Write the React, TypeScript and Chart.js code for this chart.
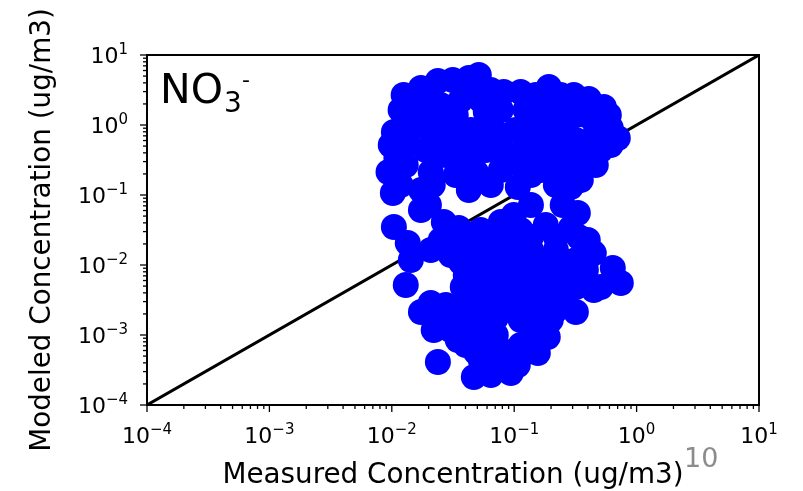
import React, { useEffect, useRef } from "react";
import { Chart, registerables } from "chart.js";

Chart.register(...registerables);

// ---- Data (ug/m3) ----
const upperMeasured = [
  0.0125, 0.0173, 0.0238, 0.0315, 0.0426, 0.0514, 0.0822, 0.113, 0.192, 0.307,
  0.407, 0.54, 0.593, 0.702, 0.0104, 0.0098, 0.0094, 0.0102, 0.0426, 0.0644,
  0.107, 0.29, 0.35, 0.51, 0.0173, 0.0251, 0.0366, 0.0533, 0.0777, 0.124,
  0.199, 0.319, 0.464, 0.0143, 0.0208, 0.0303, 0.0442, 0.0644, 0.103, 0.165,
  0.264, 0.422, 0.013, 0.019, 0.0276, 0.0402, 0.0586, 0.0938, 0.15, 0.24,
  0.35, 0.0118, 0.0333, 0.0777, 0.165, 0.113, 0.0208, 0.319, 0.615,
  0.0586, 0.0777, 0.0514, 0.15, 0.15, 0.24, 0.385, 0.0118, 0.013, 0.0216,
  0.0276, 0.0366, 0.0777, 0.124, 0.199, 0.181, 0.264, 0.464, 0.615, 0.0644,
  0.0402, 0.0208, 0.0143, 0.24, 0.219,
  0.0109, 0.0486, 0.137, 0.0208, 0.0333, 0.181,
];
const upperModeled = [
  2.68, 3.38, 4.25, 4.39, 4.69, 5.18, 2.96, 2.96, 3.49, 2.68,
  2.35, 1.81, 1.39, 0.652, 0.794, 0.518, 0.213, 0.107, 0.118, 0.139,
  0.13, 0.13, 0.164, 0.439, 1.64, 1.93, 2.28, 2.28, 1.64, 1.64,
  1.93, 1.39, 1.0, 0.848, 0.848, 1.0, 0.848, 1.0, 0.848, 0.848,
  0.72, 0.611, 0.518, 0.439, 0.373, 0.316, 0.439, 0.373, 0.439, 0.373,
  0.316, 1.64, 0.193, 0.228, 0.228, 0.268, 0.213, 0.611, 0.906,
  1.53, 0.72, 0.652, 2.68, 1.26, 1.26, 1.39, 0.139, 0.268, 0.139,
  0.611, 0.518, 0.373, 0.518, 0.611, 0.316, 0.228, 0.268, 0.518, 3.16,
  3.16, 2.68, 2.28, 2.68, 0.139,
  0.338, 0.213, 0.193, 1.39, 1.39, 1.39,
];
const bridgeMeasured = [0.0173, 0.0201, 0.0266, 0.0353];
const bridgeModeled = [0.118, 0.072, 0.0411, 0.0338];
const lowerMeasured = [
  0.0104, 0.0135, 0.0143, 0.013, 0.0173, 0.022, 0.0346, 0.0238, 0.0468, 0.0644,
  0.0938, 0.107, 0.156, 0.188, 0.199, 0.319, 0.447, 0.639, 0.743, 0.447,
  0.399, 0.331, 0.249, 0.137, 0.0992, 0.0173, 0.0533, 0.0777, 0.0251, 0.0366,
  0.113, 0.181, 0.29, 0.0208, 0.0303, 0.0442, 0.0644, 0.0938, 0.137, 0.219,
  0.319, 0.0402, 0.0586, 0.0854, 0.124, 0.181, 0.264, 0.385, 0.0208, 0.0276,
  0.0402, 0.0586, 0.0854, 0.124, 0.181, 0.264, 0.0251, 0.0366, 0.0533, 0.0707,
  0.113, 0.15, 0.0402, 0.0586, 0.0707, 0.113, 0.0533, 0.0777,
  0.0303, 0.0442, 0.0644, 0.0938, 0.137, 0.219, 0.337,
  0.0366, 0.0533, 0.0777, 0.113, 0.165, 0.264, 0.385,
  0.038, 0.0486, 0.0707, 0.103, 0.15, 0.219, 0.319, 0.51,
  0.0333, 0.0486, 0.0707, 0.103, 0.219,
  0.0303, 0.0442, 0.0586, 0.137, 0.165,
  0.0486, 0.0707, 0.0938, 0.124,
];
const lowerModeled = [
  0.0349, 0.0206, 0.0118, 0.00518, 0.00213, 0.00118, 0.000848, 0.000411, 0.000251, 0.000268,
  0.000286, 0.000373, 0.000553, 0.000936, 0.00164, 0.00213, 0.00439, 0.00906, 0.00553, 0.0148,
  0.0228, 0.0553, 0.072, 0.072, 0.0518, 0.0611, 0.0316, 0.0411, 0.0228, 0.0228,
  0.0316, 0.0373, 0.0338, 0.0164, 0.0139, 0.0139, 0.0164, 0.0164, 0.0164, 0.0164,
  0.0118, 0.0072, 0.0072, 0.0072, 0.0072, 0.00848, 0.0072, 0.00848, 0.00286, 0.00268,
  0.00316, 0.00316, 0.00316, 0.00316, 0.00316, 0.00373, 0.00164, 0.00164, 0.00164, 0.00175,
  0.00164, 0.00228, 0.00072, 0.00072, 0.001, 0.00072, 0.000439, 0.000469,
  0.0251, 0.0251, 0.0251, 0.0251, 0.0251, 0.0251, 0.0251,
  0.011, 0.011, 0.011, 0.011, 0.011, 0.011, 0.011,
  0.00485, 0.00485, 0.00485, 0.00485, 0.00485, 0.00485, 0.00485, 0.00485,
  0.00228, 0.00228, 0.00228, 0.00228, 0.00228,
  0.00118, 0.00118, 0.00118, 0.00118, 0.00118,
  0.000572, 0.000572, 0.000572, 0.000572,
];

const identityLine = [1e-4, 10];
const axisMin = 1e-4;
const axisMax = 10;
const tickExponents = [-4, -3, -2, -1, 0, 1];
const xTitle = "Measured Concentration (ug/m3)";
const yTitle = "Modeled Concentration (ug/m3)";
const speciesBase = "NO";
const speciesSub = "3";
const speciesSup = "-";
const offsetText = "10";

const FONT = '"DejaVu Sans"';

function supText(e: number) {
  return e < 0 ? "\u2212" + Math.abs(e) : String(e);
}

const decorPlugin = {
  id: "decor",
  afterDraw(chart: any) {
    const ctx: CanvasRenderingContext2D = chart.ctx;
    const xs = chart.scales.x;
    const ys = chart.scales.y;
    const { left, right, top, bottom } = chart.chartArea;
    ctx.save();
    // frame
    ctx.strokeStyle = "#000";
    ctx.lineWidth = 2;
    ctx.strokeRect(left, top, right - left, bottom - top);

    // ticks
    ctx.lineWidth = 1.3;
    for (let e = -4; e <= 1; e++) {
      for (let k = 1; k <= 9; k++) {
        const v = k * Math.pow(10, e);
        if (v > axisMax * 1.0001) break;
        const major = k === 1;
        const len = major ? 7 : 4;
        const px = xs.getPixelForValue(v);
        ctx.beginPath();
        ctx.moveTo(px, bottom);
        ctx.lineTo(px, bottom + len);
        ctx.stroke();
        const py = ys.getPixelForValue(v);
        ctx.beginPath();
        ctx.moveTo(left, py);
        ctx.lineTo(left - len, py);
        ctx.stroke();
      }
    }

    // tick labels
    ctx.fillStyle = "#000";
    ctx.textBaseline = "alphabetic";
    ctx.textAlign = "left";
    const baseFont = `22px ${FONT}`;
    const supFont = `15px ${FONT}`;
    for (const e of tickExponents) {
      const v = Math.pow(10, e);
      const s = supText(e);
      ctx.font = baseFont;
      const wb = ctx.measureText("10").width;
      ctx.font = supFont;
      const ws = ctx.measureText(s).width;
      const w = wb + ws;
      // x axis
      const px = xs.getPixelForValue(v);
      let x0 = px - w / 2;
      ctx.font = baseFont;
      ctx.fillText("10", x0, bottom + 38);
      ctx.font = supFont;
      ctx.fillText(s, x0 + wb, bottom + 29);
      // y axis
      const py = ys.getPixelForValue(v);
      x0 = left - 19 - w;
      ctx.font = baseFont;
      ctx.fillText("10", x0, py + 8);
      ctx.font = supFont;
      ctx.fillText(s, x0 + wb, py - 1);
    }

    // axis titles
    ctx.font = `27.8px ${FONT}`;
    ctx.textAlign = "center";
    ctx.fillText(xTitle, (left + right) / 2, 483);
    ctx.save();
    ctx.translate(50, (top + bottom) / 2);
    ctx.rotate(-Math.PI / 2);
    ctx.fillText(yTitle, 0, 0);
    ctx.restore();

    // species label
    ctx.textAlign = "left";
    ctx.font = `41px ${FONT}`;
    const nx = left + 13;
    ctx.fillText(speciesBase, nx, top + 48);
    const wn = ctx.measureText(speciesBase).width;
    ctx.font = `28px ${FONT}`;
    ctx.fillText(speciesSub, nx + wn + 1, top + 57);
    ctx.font = `22px ${FONT}`;
    ctx.fillText(speciesSup, nx + wn + 19, top + 32);

    // offset text
    ctx.fillStyle = "#8c8c8c";
    ctx.font = `27px ${FONT}`;
    ctx.fillText(offsetText, right - 75, 467);
    ctx.restore();
  },
};

export default function App() {
  const ref = useRef<HTMLCanvasElement | null>(null);
  useEffect(() => {
    if (!ref.current) return;
    const pts: { x: number; y: number }[] = [];
    const addGroup = (xs: number[], ys: number[]) => {
      for (let i = 0; i < xs.length; i++) pts.push({ x: xs[i], y: ys[i] });
    };
    addGroup(upperMeasured, upperModeled);
    addGroup(bridgeMeasured, bridgeModeled);
    addGroup(lowerMeasured, lowerModeled);

    const chart = new Chart(ref.current, {
      type: "scatter",
      data: {
        datasets: [
          {
            type: "scatter",
            data: pts,
            backgroundColor: "#0000ff",
            borderWidth: 0,
            pointRadius: 13,
            pointHoverRadius: 13,
            order: 0,
          } as any,
          {
            type: "line",
            data: identityLine.map((v) => ({ x: v, y: v })),
            borderColor: "#000",
            borderWidth: 3,
            pointRadius: 0,
            showLine: true,
            fill: false,
            order: 1,
          } as any,
        ],
      },
      options: {
        responsive: false,
        animation: false,
        events: [],
        layout: { padding: { top: 55, right: 44, left: 0, bottom: 0 } },
        plugins: { legend: { display: false }, tooltip: { enabled: false } },
        scales: {
          x: {
            type: "logarithmic",
            min: axisMin,
            max: axisMax,
            grid: { display: false },
            border: { display: false },
            ticks: { display: false },
            afterFit: (s: any) => {
              s.height = 86;
            },
          },
          y: {
            type: "logarithmic",
            min: axisMin,
            max: axisMax,
            grid: { display: false },
            border: { display: false },
            ticks: { display: false },
            afterFit: (s: any) => {
              s.width = 147;
            },
          },
        },
      } as any,
      plugins: [decorPlugin],
    });
    return () => chart.destroy();
  }, []);

  return (
    <div style={{ position: "absolute", left: 0, top: 0, width: 803, height: 491, background: "#fff" }}>
      <canvas ref={ref} width={803} height={491} />
    </div>
  );
}
